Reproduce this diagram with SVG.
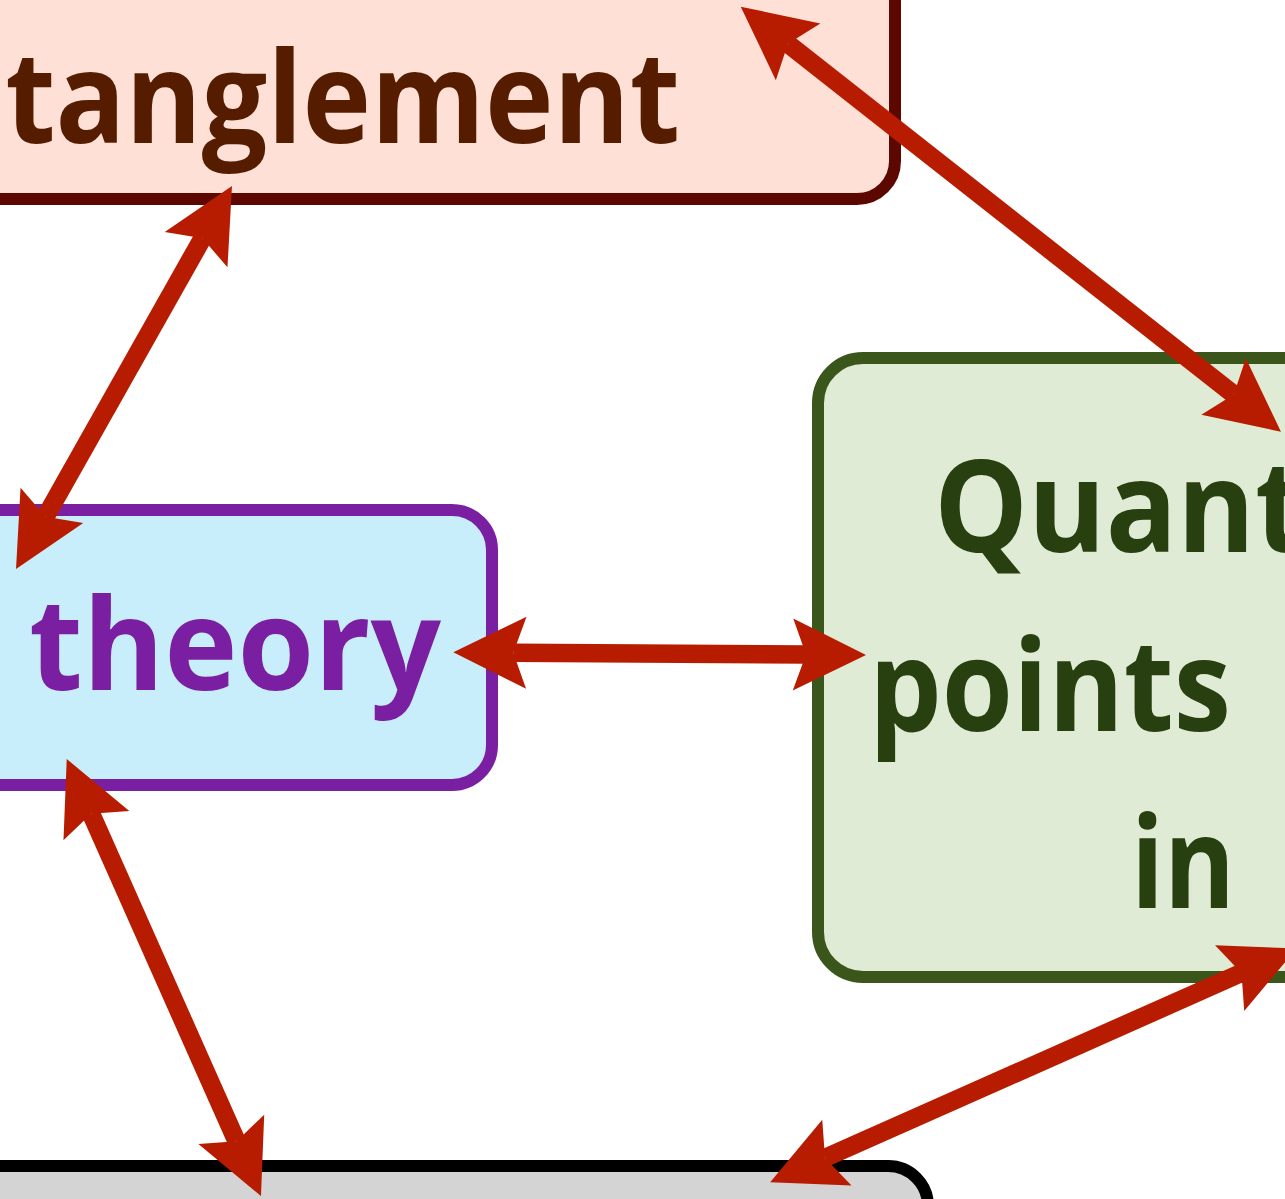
<svg xmlns="http://www.w3.org/2000/svg" width="1285" height="1199" viewBox="0 0 1285 1199">
  <style>
    .box { stroke-width: 12; }
    .lbl { font-family: "Comic Sans MS", "Open Sans", "DejaVu Sans", sans-serif; font-weight: bold; font-size: 128px; }
    .conn { fill: none; stroke: #b81c00; stroke-width: 18.5; }
  </style>
  <defs>
    <marker id="ah" markerUnits="userSpaceOnUse" orient="auto-start-reverse" refX="0" refY="0" markerWidth="10" markerHeight="10" overflow="visible">
      <path d="M60,0 L-13,-36 L0,0 L-13,36 Z" fill="#b81c00"/>
    </marker>
  </defs>
  <rect width="1285" height="1199" fill="#ffffff"/>

  <g id="node-entanglement">
    <rect class="box" x="-200" y="-200" width="1095" height="399" rx="38" fill="#ffe0d6" stroke="#5c0700"/>
    <text class="lbl" x="-136" y="143" fill="#561c00" textLength="816" lengthAdjust="spacingAndGlyphs">Entanglement</text>
  </g>

  <g id="node-theory">
    <rect class="box" x="-200" y="510" width="692" height="275" rx="40" fill="#c8eefc" stroke="#7b1fa2"/>
    <text class="lbl" x="29" y="690" fill="#7b1fa2" textLength="412" lengthAdjust="spacingAndGlyphs">theory</text>
  </g>

  <g id="node-quantum">
    <rect class="box" x="818" y="358" width="700" height="619" rx="45" fill="#dfebd4" stroke="#3a561a"/>
    <text class="lbl" x="934" y="552" fill="#283f10" textLength="566" lengthAdjust="spacingAndGlyphs">Quantum</text>
    <text class="lbl" x="869" y="731" fill="#283f10" textLength="362" lengthAdjust="spacingAndGlyphs">points</text>
    <text class="lbl" x="1131" y="908" fill="#283f10" textLength="104" lengthAdjust="spacingAndGlyphs">in</text>
  </g>

  <g id="node-bottom">
    <rect class="box" x="-200" y="1166" width="1128" height="300" rx="40" fill="#d4d4d4" stroke="#000000"/>
  </g>

  <g id="connectors">
    <line class="conn" x1="202.5" y1="238.3" x2="45.5" y2="516.7" marker-start="url(#ah)" marker-end="url(#ah)"/>
    <line class="conn" x1="787.9" y1="43.8" x2="1233.8" y2="394.6" marker-start="url(#ah)" marker-end="url(#ah)"/>
    <line class="conn" x1="513.3" y1="652.7" x2="806" y2="654.6" marker-start="url(#ah)" marker-end="url(#ah)"/>
    <line class="conn" x1="91.1" y1="813.8" x2="236.6" y2="1141.2" marker-start="url(#ah)" marker-end="url(#ah)"/>
    <line class="conn" x1="825" y1="1157.9" x2="1241.5" y2="972.9" marker-start="url(#ah)" marker-end="url(#ah)"/>
  </g>
</svg>
